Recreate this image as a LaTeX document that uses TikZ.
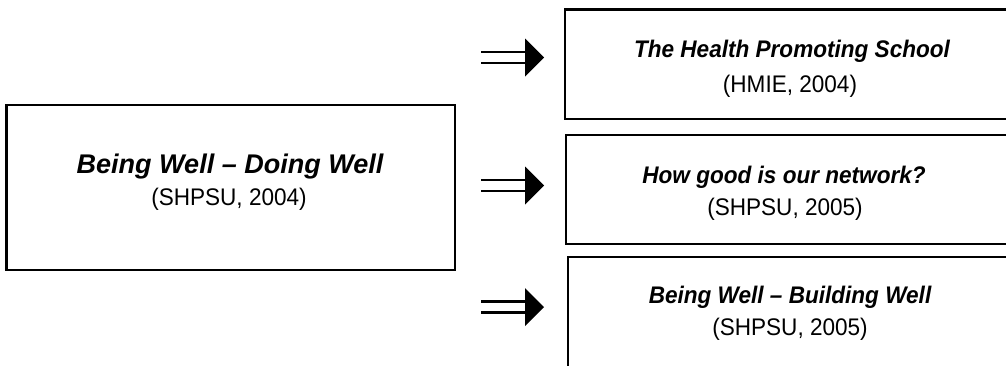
\documentclass[tikz,border=0pt]{standalone}
\usepackage{fontspec}
\setmainfont{Liberation Sans}[FakeStretch=0.94]
\newfontfamily\widefont{Liberation Sans}[FakeStretch=1.0, Ligatures=TeX]
\usetikzlibrary{calc}

\tikzset{every picture/.style={line width=0.75pt}}
\tikzset{
	srcbox/.style={draw, line width=2.4pt, rectangle, inner sep=0pt},
	shaft/.style={line width=2.2pt},
	head/.style={fill=black},
	titletext/.style={font=\fontsize{24}{28}\selectfont\bfseries\itshape, inner sep=0pt, anchor=base},
	reftext/.style={font=\fontsize{24}{28}\selectfont, inner sep=0pt, anchor=base}}

\begin{document}
\begin{tikzpicture}[x=1pt,y=1pt,yscale=-1]
	\useasboundingbox (0,0) rectangle (1006,365);
	\clip (0,0) rectangle (1006,365);
	
	%Left box
	\node [srcbox, minimum width=448.5pt, minimum height=165pt] (doing) at (230.75,187.5) {};
	%Right boxes
	\node [srcbox, minimum width=445pt, minimum height=109.5pt] (school) at (787.5,64.25) {};
	\node [srcbox, minimum width=445pt, minimum height=109pt] (network) at (788.5,189.5) {};
	\node [srcbox, minimum width=445pt, minimum height=110pt] (building) at (790.5,312) {};
	
	%Arrows
	\foreach \n/\y in {1/57.5, 2/185.5, 3/307}{
		\coordinate (a\n) at (481,\y);
		\coordinate (h\n) at (525,\y);
		\draw [shaft] ($(a\n)+(0,-5.5)$) -- ($(h\n)+(0,-5.5)$);
		\draw [shaft] ($(a\n)+(0,5.5)$) -- ($(h\n)+(0,5.5)$);
		\fill [head] ($(h\n)+(0,-19)$) -- ($(h\n)+(19,0)$) -- ($(h\n)+(0,19)$) -- cycle;
	}
	
	% Text Node
	\node [titletext, font=\fontsize{27}{30}\widefont\bfseries\itshape] (doingt) at (230,173) {Being Well – Doing Well};
	\node [reftext] (doingr) at (229,205) {(SHPSU, 2004)};
	% Text Node
	\node [titletext] (schoolt) at (792,57) {The Health Promoting School};
	\node [reftext] (schoolr) at (790,92) {(HMIE, 2004)};
	% Text Node
	\node [titletext] (networkt) at (784,183) {How good is our network?};
	\node [reftext] (networkr) at (785,215) {(SHPSU, 2005)};
	% Text Node
	\node [titletext] (buildingt) at (790,303) {Being Well – Building Well};
	\node [reftext] (buildingr) at (790,335) {(SHPSU, 2005)};
	
\end{tikzpicture}
\end{document}
